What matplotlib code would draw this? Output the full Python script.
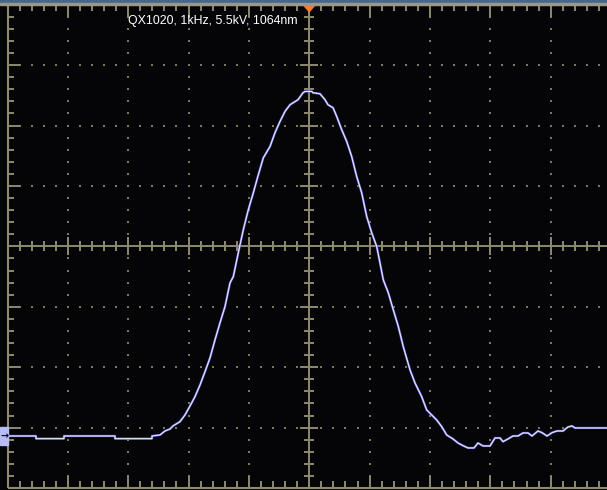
import numpy as np
import matplotlib.pyplot as plt
from matplotlib.patches import Polygon, Rectangle

# scope trace, in screen divisions (10 horizontal x 8 vertical, 0 = centre line)
t_div = [0.0, 0.472, 0.472, 0.936, 0.936, 1.781, 1.781, 2.394, 2.394, 2.527,
         2.610, 2.693, 2.742, 2.858, 2.941, 3.024, 3.107, 3.190, 3.273, 3.355,
         3.438, 3.521, 3.604, 3.687, 3.742, 3.824, 3.907, 3.990, 4.073, 4.156,
         4.239, 4.350, 4.432, 4.515, 4.598, 4.681, 4.814, 4.896, 4.930, 5.041,
         5.062, 5.178, 5.261, 5.311, 5.394, 5.455, 5.538, 5.621, 5.703, 5.786,
         5.869, 5.952, 6.035, 6.118, 6.172, 6.227, 6.310, 6.393, 6.476, 6.558,
         6.670, 6.752, 6.863, 6.946, 7.029, 7.112, 7.195, 7.277, 7.382, 7.465,
         7.548, 7.631, 7.730, 7.796, 7.879, 7.995, 8.078, 8.161, 8.210, 8.293,
         8.376, 8.459, 8.542, 8.625, 8.691, 8.790, 8.857, 8.940, 9.022, 9.105,
         9.205, 9.287, 9.354, 9.404, 10.0]
v_div = [-3.139, -3.139, -3.183, -3.183, -3.139, -3.139, -3.183, -3.183, -3.139, -3.122,
         -3.056, -3.023, -2.973, -2.902, -2.791, -2.642, -2.488, -2.294, -2.074, -1.847,
         -1.549, -1.267, -0.997, -0.605, -0.500, -0.108, 0.273, 0.605, 0.886, 1.184,
         1.466, 1.653, 1.880, 2.067, 2.233, 2.344, 2.427, 2.542, 2.564, 2.564,
         2.542, 2.526, 2.427, 2.344, 2.294, 2.150, 1.930, 1.736, 1.487, 1.156,
         0.886, 0.494, 0.224, -0.003, -0.273, -0.555, -0.770, -1.052, -1.328, -1.660,
         -2.046, -2.261, -2.488, -2.708, -2.791, -2.874, -2.985, -3.122, -3.188, -3.255,
         -3.299, -3.337, -3.337, -3.255, -3.304, -3.304, -3.172, -3.172, -3.233, -3.188,
         -3.139, -3.139, -3.089, -3.089, -3.139, -3.056, -3.084, -3.139, -3.084, -3.056,
         -3.056, -2.990, -2.973, -3.006, -3.006]

label = "QX1020, 1kHz, 5.5kV, 1064nm"

W, H = 607, 490
grid_col = '#8e8a70'
dot_col = '#7d7858'

fig = plt.figure(figsize=(W / 100, H / 100), dpi=100, facecolor='#050508')
# the scope screen: 10 x 8 divisions, right edge is a bit past the picture
ax = fig.add_axes([7.5 / W, 2 / H, 603.5 / W, 483.3 / H])
ax.set_facecolor('#050508')
ax.set_xlim(0, 10)
ax.set_ylim(-4, 4)
ax.axis('off')

minor_x = np.round(np.arange(0.2, 10, 0.2), 3)
minor_y = np.round(np.arange(-3.8, 4, 0.2), 3)
major_x = np.arange(1, 10)
major_y = np.arange(-3, 4)

# dotted graticule
for gx in major_x:
    if gx == 5:
        continue
    ax.scatter(np.full(len(minor_y), gx), minor_y, s=1.3, marker='s', color=dot_col, lw=0)
for gy in major_y:
    if gy == 0:
        continue
    ax.scatter(minor_x, np.full(len(minor_x), gy), s=1.3, marker='s', color=dot_col, lw=0)

# frame
for sp in [([0, 0], [-4, 4]), ([0, 10], [4, 4]), ([0, 10], [-4, -4])]:
    ax.plot(*sp, color=grid_col, lw=1.5, clip_on=False, solid_capstyle='butt')

is_major_x = np.isclose(minor_x % 1, 0) | np.isclose(minor_x % 1, 1)
is_major_y = np.isclose(minor_y % 1, 0) | np.isclose(minor_y % 1, 1)
len_x = np.where(is_major_x, 0.2, 0.11)
len_y = np.where(is_major_y, 0.2, 0.1)

ax.vlines(minor_x, 4 - len_x, 4, color=grid_col, lw=1.4)
ax.vlines(minor_x, -4, -4 + len_x, color=grid_col, lw=1.4)
ax.hlines(minor_y, 0, len_y, color=grid_col, lw=1.4)

# centre cross with its ticks
ax.plot([5, 5], [-4, 4], color=grid_col, lw=1.4)
ax.plot([0, 10], [0, 0], color=grid_col, lw=1.4)
cx = np.where(is_major_x, 0.15, 0.085)
cy = np.where(is_major_y, 0.15, 0.085)
ax.vlines(minor_x, -cx, cx, color=grid_col, lw=1.4)
ax.hlines(minor_y, 5 - cy, 5 + cy, color=grid_col, lw=1.4)

# trace
ax.plot(t_div, v_div, color='#6666d8', lw=1.6, solid_joinstyle='round', zorder=5)
ax.plot(t_div, v_div, color='#e8e8ff', lw=0.8, solid_joinstyle='round', zorder=6)

# trigger marker and caption
ax.add_patch(Polygon([[4.9, 4], [5.1, 4], [5.0, 3.885]], closed=True,
                     color='#ff7a2a', zorder=7, clip_on=False))
ax.text(2.0, 3.685, label, color='white', fontsize=8.9, family='Liberation Sans',
        va='baseline', ha='left', zorder=8)

# top status strip
fig.patches.append(Rectangle((0, 1 - 3.5 / H), 1, 3.5 / H, transform=fig.transFigure,
                             color='#46678a', zorder=0))
fig.patches.append(Rectangle((0, 1 - 5 / H), 1, 1.5 / H, transform=fig.transFigure,
                             color='#9a988a', zorder=0))

# channel ground marker on the left
fig.patches.append(Rectangle((0, 1 - 445 / H), 8 / W, 18 / H, transform=fig.transFigure,
                             color='#b8bcf4', zorder=3))
fig.text(0.5 / W, 1 - 436 / H, '→', color='#101018', fontsize=7, va='center',
         ha='left', fontweight='bold')

fig.savefig('out.png', dpi=100, facecolor=fig.get_facecolor())
